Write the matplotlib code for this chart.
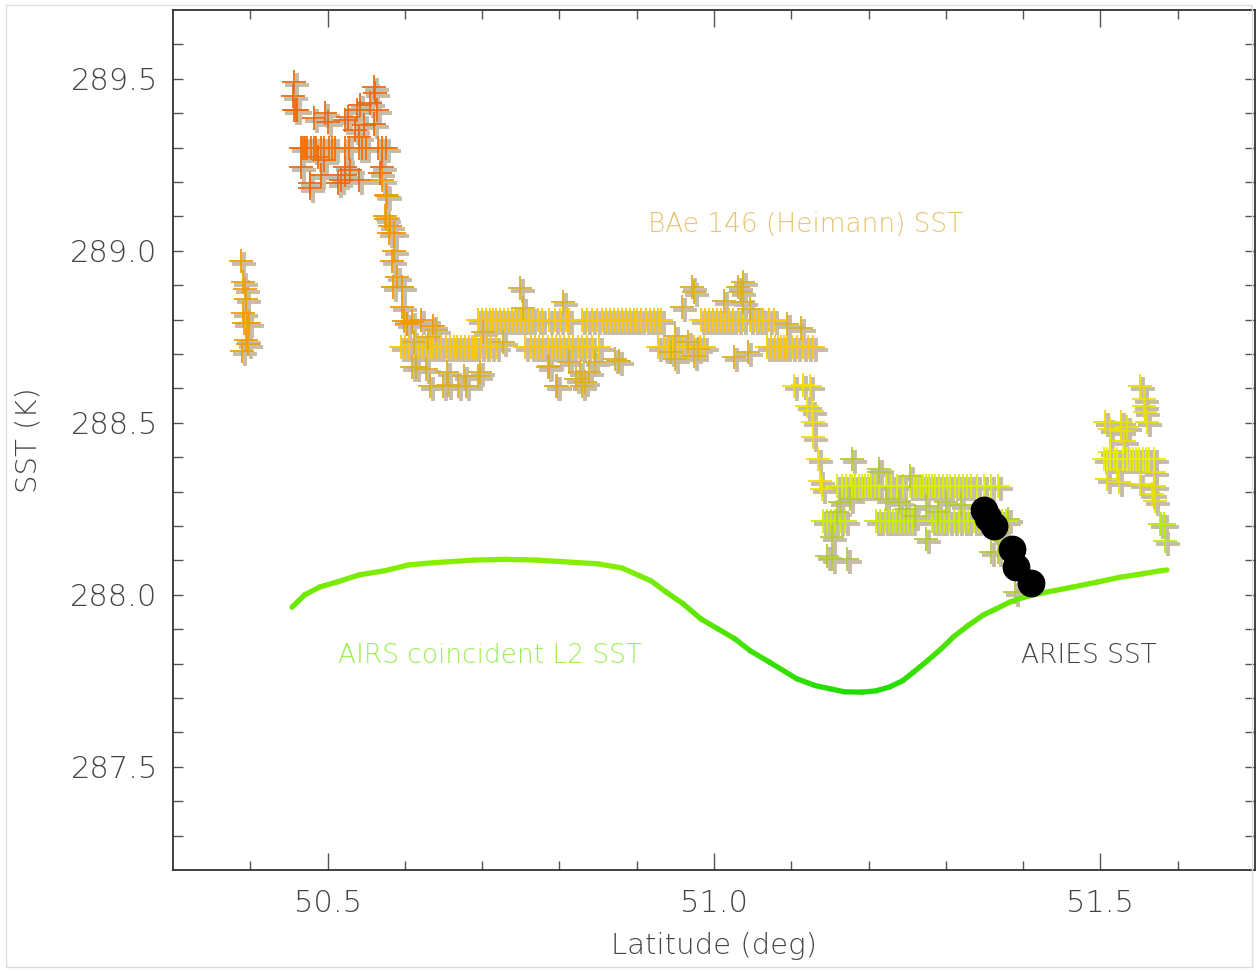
import numpy as np
import matplotlib
matplotlib.use('Agg')
import matplotlib.pyplot as plt
import matplotlib.transforms as mtransforms
from matplotlib.collections import LineCollection
from matplotlib.patches import Rectangle

# BAe 146 (Heimann) SST, split by leg / colour
# small cluster west of 50.4
lat_a = [50.388, 50.391, 50.393, 50.395, 50.390, 50.396, 50.392, 50.398, 50.394, 50.389, 50.397]
sst_a = [288.97, 288.91, 288.89, 288.86, 288.82, 288.79, 288.79, 288.79, 288.74, 288.71, 288.73]

# warm patch near 50.5
lat_b = [50.456, 50.455, 50.457, 50.459, 50.461, 50.497, 50.500, 50.526, 50.538, 50.560,
         50.562, 50.555, 50.564, 50.547, 50.560, 50.535, 50.541, 50.483, 50.522, 50.542,
         50.465, 50.477, 50.477, 50.491, 50.517, 50.522, 50.529, 50.513, 50.541, 50.523,
         50.496, 50.487, 50.568, 50.571]
sst_b = [289.49, 289.45, 289.41, 289.41, 289.41, 289.40, 289.375, 289.39, 289.41, 289.477,
         289.46, 289.43, 289.41, 289.367, 289.37, 289.35, 289.33, 289.387, 289.38, 289.425,
         289.245, 289.198, 289.184, 289.221, 289.207, 289.245, 289.236, 289.198, 289.207, 289.221,
         289.265, 289.274, 289.227, 289.245]
band_b_sst = 289.30
band_b_lat = [50.465, 50.467, 50.469, 50.471, 50.474, 50.478, 50.482, 50.485, 50.492, 50.495,
              50.502, 50.506, 50.509, 50.522, 50.528, 50.541, 50.545, 50.550, 50.565, 50.570,
              50.575]

# drop off the warm patch
lat_c = [50.571, 50.576, 50.576, 50.579, 50.577, 50.581, 50.586, 50.586, 50.583, 50.590,
         50.585, 50.596, 50.596, 50.599, 50.603, 50.609, 50.621, 50.637, 50.574]
sst_c = [289.207, 289.163, 289.091, 289.053, 289.158, 289.071, 289.053, 288.998, 288.969, 288.925,
         288.896, 288.894, 288.838, 288.795, 288.786, 288.792, 288.80, 288.78, 289.10]

# plateau 50.6 - 51.1
band_d_hi_sst = 288.80
band_d_hi_lat = [50.695, 50.700, 50.705, 50.710, 50.714, 50.718, 50.723, 50.728, 50.733, 50.738,
                 50.744, 50.749, 50.754, 50.759, 50.765, 50.772, 50.778, 50.786, 50.794, 50.801,
                 50.808, 50.813, 50.829, 50.836, 50.842, 50.849, 50.855, 50.860, 50.865, 50.871,
                 50.876, 50.881, 50.886, 50.891, 50.896, 50.901, 50.906, 50.912, 50.917, 50.922,
                 50.927, 50.932, 50.983, 50.988, 50.994, 50.999, 51.004, 51.009, 51.014, 51.019,
                 51.024, 51.031, 51.037, 51.047, 51.053, 51.058, 51.064, 51.071, 51.077]
band_d_lo_sst = 288.72
band_d_lo_lat = [50.595, 50.600, 50.605, 50.612, 50.617, 50.622, 50.627, 50.632, 50.637, 50.642,
                 50.647, 50.653, 50.658, 50.663, 50.667, 50.673, 50.678, 50.683, 50.687, 50.690,
                 50.692, 50.699, 50.705, 50.712, 50.718, 50.756, 50.763, 50.769, 50.774, 50.779,
                 50.785, 50.790, 50.795, 50.801, 50.806, 50.813, 50.818, 50.824, 50.829, 50.836,
                 50.842, 50.851, 50.928, 50.935, 50.941, 50.947, 50.954, 50.960, 50.968, 50.974,
                 50.982, 50.987, 51.069, 51.074, 51.079, 51.083, 51.087, 51.091, 51.095, 51.101,
                 51.108, 51.115, 51.122, 51.128]
lat_d = [50.749, 50.753, 50.804, 50.609, 50.628, 50.654, 50.676, 50.695, 50.633, 50.650,
         50.669, 50.679, 50.656, 50.787, 50.813, 50.826, 50.833, 50.795, 50.821, 50.846,
         50.877, 50.612, 50.701, 50.727, 50.872, 50.785, 50.797, 50.829, 50.838, 50.697,
         50.615, 50.971, 50.974, 51.031, 51.035, 51.038, 51.013, 50.958, 51.038, 51.047,
         51.112, 51.095, 50.949, 50.967, 50.979, 50.945, 51.044, 51.026, 50.949, 50.974,
         50.630, 50.640]
sst_d = [288.893, 288.835, 288.85, 288.661, 288.656, 288.647, 288.635, 288.635, 288.606, 288.606,
         288.606, 288.606, 288.61, 288.664, 288.676, 288.647, 288.618, 288.606, 288.627, 288.676,
         288.679, 288.734, 288.763, 288.734, 288.685, 288.661, 288.606, 288.606, 288.647, 288.647,
         288.661, 288.896, 288.879, 288.896, 288.879, 288.908, 288.853, 288.838, 288.850, 288.83,
         288.777, 288.786, 288.751, 288.734, 288.714, 288.705, 288.705, 288.69, 288.685, 288.693,
         288.75, 288.77]

# second front near 51.12
lat_e = [51.103, 51.124, 51.127, 51.128, 51.128, 51.135, 51.137, 51.140, 51.115, 51.120]
sst_e = [288.606, 288.606, 288.534, 288.502, 288.458, 288.394, 288.331, 288.307, 288.61, 288.55]

# cool plateau 51.14 - 51.4
band_f_hi_sst = 288.316
band_f_hi_lat = [51.159, 51.165, 51.171, 51.176, 51.179, 51.183, 51.187, 51.191, 51.195, 51.199,
                 51.203, 51.208, 51.214, 51.222, 51.229, 51.237, 51.245, 51.253, 51.259, 51.263,
                 51.267, 51.271, 51.274, 51.278, 51.282, 51.286, 51.291, 51.296, 51.301, 51.306,
                 51.312, 51.317, 51.322, 51.327, 51.332, 51.340, 51.349, 51.358, 51.368]
band_f_lo_sst = 288.214
band_f_lo_lat = [51.141, 51.146, 51.151, 51.156, 51.163, 51.169, 51.210, 51.215, 51.221, 51.226,
                 51.231, 51.236, 51.241, 51.246, 51.251, 51.256, 51.282, 51.287, 51.292, 51.297,
                 51.304, 51.310, 51.317, 51.323, 51.329, 51.336, 51.342, 51.349, 51.355, 51.362,
                 51.368, 51.373, 51.378]
lat_f = [51.179, 51.214, 51.253, 51.274, 51.223, 51.240, 51.274, 51.300, 51.249, 51.163,
         51.176, 51.159, 51.355, 51.368, 51.368, 51.359, 51.394, 51.390, 51.153, 51.146,
         51.172, 51.153, 51.374, 51.381, 51.214, 51.290, 51.320, 51.260]
sst_f = [288.394, 288.357, 288.345, 288.162, 288.278, 288.27, 288.258, 288.27, 288.249, 288.27,
         288.278, 288.241, 288.249, 288.20, 288.124, 288.124, 288.055, 288.008, 288.168, 288.113,
         288.104, 288.104, 288.16, 288.22, 288.365, 288.24, 288.26, 288.23]

# northern cluster
lat_g = [51.551, 51.556, 51.556, 51.558, 51.506, 51.526, 51.560, 51.535, 51.512, 51.526,
         51.512, 51.531, 51.522, 51.569, 51.509, 51.524, 51.551, 51.569, 51.567, 51.571]
sst_g = [288.606, 288.568, 288.548, 288.531, 288.502, 288.502, 288.502, 288.487, 288.481, 288.476,
         288.415, 288.447, 288.365, 288.357, 288.336, 288.328, 288.322, 288.316, 288.293, 288.273]
band_g_sst = 288.394
band_g_lat = [51.505, 51.509, 51.513, 51.517, 51.522, 51.529, 51.535, 51.538, 51.542, 51.546,
              51.550, 51.555, 51.559, 51.563, 51.569]
lat_h = [51.577, 51.579, 51.582, 51.583]
sst_h = [288.206, 288.206, 288.206, 288.156]

# ARIES SST
lat_aries = [51.349, 51.355, 51.362, 51.385, 51.391, 51.410]
sst_aries = [288.246, 288.223, 288.200, 288.133, 288.081, 288.035]

# AIRS coincident L2 SST
lat_airs = [50.454, 50.4705, 50.490, 50.512, 50.541, 50.574, 50.605, 50.636, 50.690, 50.730,
            50.770, 50.850, 50.881, 50.903, 50.919, 50.938, 50.960, 50.983, 51.005, 51.027,
            51.047, 51.072, 51.107, 51.131, 51.152, 51.169, 51.192, 51.210, 51.227, 51.244,
            51.258, 51.276, 51.294, 51.310, 51.329, 51.349, 51.365, 51.383, 51.401, 51.426,
            51.463, 51.496, 51.525, 51.554, 51.578, 51.586]
sst_airs = [287.964, 288.000, 288.023, 288.037, 288.058, 288.070, 288.087, 288.093, 288.101, 288.103,
            288.101, 288.090, 288.078, 288.056, 288.040, 288.008, 287.974, 287.930, 287.901, 287.872,
            287.837, 287.804, 287.756, 287.736, 287.726, 287.718, 287.717, 287.721, 287.732, 287.750,
            287.775, 287.808, 287.843, 287.878, 287.911, 287.942, 287.959, 287.979, 287.993, 288.006,
            288.022, 288.037, 288.051, 288.061, 288.070, 288.072]

groups = [
    (lat_a, sst_a, '#f0a000'),
    (lat_b, sst_b, '#ee6a12'),
    (band_b_lat, [band_b_sst] * len(band_b_lat), '#f87000'),
    (lat_c, sst_c, '#f09a00'),
    (band_d_lo_lat, [band_d_lo_sst] * len(band_d_lo_lat), '#ffc800'),
    (band_d_hi_lat, [band_d_hi_sst] * len(band_d_hi_lat), '#ffc800'),
    (lat_d, sst_d, '#dcb020'),
    (lat_e, sst_e, '#f0e000'),
    (band_f_hi_lat, [band_f_hi_sst] * len(band_f_hi_lat), '#d8f000'),
    (band_f_lo_lat, [band_f_lo_sst] * len(band_f_lo_lat), '#c8f000'),
    (lat_f, sst_f, '#b0cc30'),
    (lat_g, sst_g, '#e8e000'),
    (band_g_lat, [band_g_sst] * len(band_g_lat), '#eaf000'),
    (lat_h, sst_h, '#b8f000'),
]

txt = '#444444'
plt.rcParams['font.family'] = 'DejaVu Sans'
plt.rcParams['font.weight'] = 'light'

fig = plt.figure(figsize=(12.57, 9.73), dpi=100)
ax = fig.add_axes([173 / 1257, 1 - 870 / 973, (1255 - 173) / 1257, (870 - 10) / 973])

# grey shadow crosses under the coloured ones
shadow = mtransforms.offset_copy(ax.transData, fig=fig, x=3, y=-3, units='dots')
all_lat = np.concatenate([np.asarray(g[0]) for g in groups])
all_sst = np.concatenate([np.asarray(g[1]) for g in groups])
ax.plot(all_lat, all_sst, '+', color='#c6bca6', ms=17, mew=2.8, transform=shadow, zorder=2)

for lat, sst, col in groups:
    ax.plot(lat, sst, '+', color=col, ms=17, mew=1.3, zorder=3)

# AIRS line, greener where colder
pts = np.column_stack([lat_airs, sst_airs]).reshape(-1, 1, 2)
segs = np.concatenate([pts[:-1], pts[1:]], axis=1)
cmap = matplotlib.colors.LinearSegmentedColormap.from_list('airs', ['#22dd00', '#88ee00'])
lc = LineCollection(segs, cmap=cmap, linewidths=3.8, capstyle='round', joinstyle='round', zorder=4)
lc.set_array((np.array(sst_airs[:-1]) + np.array(sst_airs[1:])) / 2)
lc.set_clim(287.72, 288.10)
ax.add_collection(lc)

ax.plot(lat_aries, sst_aries, 'o', color='black', ms=19, zorder=5)

ax.text(51.118, 289.076, 'BAe 146 (Heimann) SST', color='#e4c470', fontsize=19,
        ha='center', va='center', fontweight='light')
ax.text(50.710, 287.823, 'AIRS coincident L2 SST', color='#99ee55', fontsize=19,
        ha='center', va='center', fontweight='light')
ax.text(51.485, 287.823, 'ARIES SST', color=txt, fontsize=19,
        ha='center', va='center', fontweight='light')

ax.set_xlim(50.3, 51.7)
ax.set_ylim(287.2, 289.7)
ax.set_xticks([50.5, 51.0, 51.5])
ax.set_xticks(np.arange(50.4, 51.65, 0.1), minor=True)
ax.set_yticks([287.5, 288.0, 288.5, 289.0, 289.5])
ax.set_yticks(np.arange(287.3, 289.65, 0.1), minor=True)
ax.set_xticklabels(['50.5', '51.0', '51.5'], fontweight='light')
ax.set_yticklabels(['287.5', '288.0', '288.5', '289.0', '289.5'], fontweight='light')

ax.tick_params(axis='x', which='major', direction='in', length=12, width=1, color='#555555',
               top=True, labelsize=22, labelcolor=txt, pad=14)
ax.tick_params(axis='x', which='minor', direction='in', length=6.5, width=1, color='#555555', top=True)
ax.tick_params(axis='y', which='both', direction='in', length=7, width=1, color='#555555',
               right=True, labelsize=22, labelcolor=txt, pad=11)

ax.set_xlabel('Latitude (deg)', fontsize=21, color=txt, labelpad=10, fontweight='light')
ax.set_ylabel('SST (K)', fontsize=21, color=txt, labelpad=20, fontweight='light')

for sp in ax.spines.values():
    sp.set_color('#333333')
    sp.set_linewidth(1.3)

fig.patches.append(Rectangle((6 / 1257, 1 - 967 / 973), 1246 / 1257, 962 / 973,
                             transform=fig.transFigure, fill=False, edgecolor='#dddddd', lw=1))

fig.savefig('out.png', dpi=100)
